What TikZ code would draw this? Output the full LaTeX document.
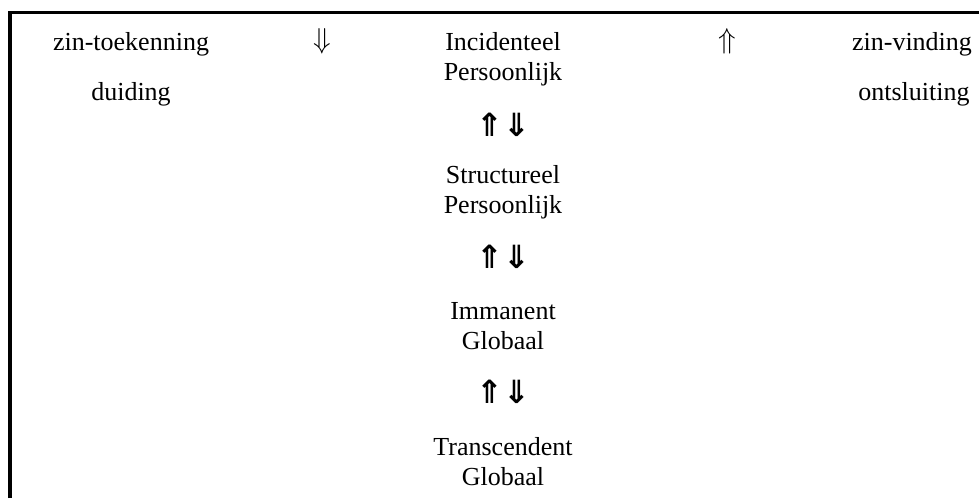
\documentclass[tikz,border=0pt]{standalone}
\usepackage{fontspec}
\setmainfont{Liberation Serif}
\newfontfamily\arrowfont{DejaVu Sans}
\begin{document}
\begin{tikzpicture}[x=0.5pt,y=-0.5pt,
  lbl/.style={font=\fontsize{13}{15}\selectfont, align=center, inner sep=0pt, anchor=base},
  thinarr/.style={font=\fontsize{15}{17}\selectfont, inner sep=0pt, anchor=base},
  dblarr/.style={font=\arrowfont\bfseries\fontsize{16}{18}\selectfont, inner sep=0pt, anchor=center}]
\useasboundingbox (0,0) rectangle (979,498);
\draw[line width=1.9pt] (10,498) -- (10,12.5) -- (979,12.5);
% left column
\node[lbl] (zt) at (131,50) {zin-toekenning};
\node[lbl] (du) at (131,100) {duiding};
\node[thinarr] (down) at (322,48) {$\Downarrow$};
% right column
\node[thinarr] (up) at (727,48) {$\Uparrow$};
\node[lbl] (zv) at (912,50) {zin-vinding};
\node[lbl] (on) at (914,100) {ontsluiting};
% middle column
\node[lbl] (ip) at (503,80) {Incidenteel\\Persoonlijk};
\node[dblarr] (a1) at (503,125) {⇑⇓};
\node[lbl] (sp) at (503,213) {Structureel\\Persoonlijk};
\node[dblarr] (a2) at (503,257) {⇑⇓};
\node[lbl] (ig) at (503,349) {Immanent\\Globaal};
\node[dblarr] (a3) at (503,392) {⇑⇓};
\node[lbl] (tg) at (503,485) {Transcendent\\Globaal};
\end{tikzpicture}
\end{document}
